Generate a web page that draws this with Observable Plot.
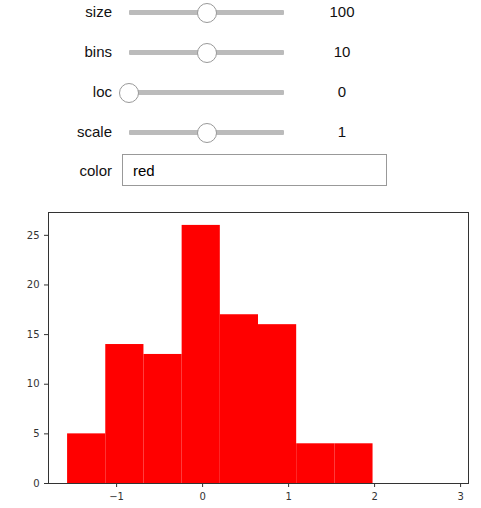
<!DOCTYPE html>
<html>
<head>
<meta charset="utf-8">
<script src="https://cdn.jsdelivr.net/npm/d3@7"></script>
<script src="https://cdn.jsdelivr.net/npm/@observablehq/plot@0.6"></script>
<style>
  body { margin: 0; font-family: "Liberation Sans", Arial, sans-serif; background: #fff; }
  #widgets { position: relative; height: 200px; width: 481px; }
  .lab { position: absolute; width: 112px; text-align: right; font-size: 15px; color: #111; }
  .track { position: absolute; left: 129px; width: 155px; height: 5px; background: #bbb; border-radius: 1px; }
  .knob { position: absolute; width: 18px; height: 18px; border: 1px solid #999; border-radius: 50%; background: #fff; top: -7.5px; }
  .val { position: absolute; left: 312px; width: 60px; text-align: center; font-size: 15px; color: #111; }
  .box { position: absolute; left: 122px; top: 154px; width: 262px; height: 32px; border: 1px solid #999; font-size: 15px; line-height: 32px; padding-left: 10px; box-sizing: border-box; width: 265px; }
  #chart { position: absolute; top: 200px; left: 0; }
</style>
</head>
<body>
<div id="widgets"></div>
<div id="chart"></div>
<script>
const sliders = [
  {name: 'size', value: '100', pos: 0.5},
  {name: 'bins', value: '10', pos: 0.5},
  {name: 'loc', value: '0', pos: 0},
  {name: 'scale', value: '1', pos: 0.5}
]
const colorText = 'red'

// histogram
const binEdges = [-1.57, -1.126, -0.682, -0.238, 0.206, 0.65, 1.094, 1.538, 1.982, 2.426, 2.87]
const counts = [5, 14, 13, 26, 17, 16, 4, 4, 0, 0]

const w = d3.select('#widgets')
sliders.forEach((s, i) => {
  const y = 12 + i * 40
  w.append('div').attr('class', 'lab').style('top', (y - 9) + 'px').text(s.name)
  const t = w.append('div').attr('class', 'track').style('top', (y - 2) + 'px')
  t.append('div').attr('class', 'knob').style('left', (s.pos * 155 - 10) + 'px')
  w.append('div').attr('class', 'val').style('top', (y - 9) + 'px').text(s.value)
})
w.append('div').attr('class', 'lab').style('top', '162px').text('color')
w.append('div').attr('class', 'box').text(colorText)

const bars = counts.map((c, i) => ({x1: binEdges[i], x2: binEdges[i + 1], y: c}))

const chart = Plot.plot({
  width: 481,
  height: 308,
  marginLeft: 48,
  marginRight: 13,
  marginTop: 12,
  marginBottom: 25,
  style: {fontFamily: 'DejaVu Sans', fontSize: '10px', color: '#333'},
  x: {domain: [-1.792, 3.092], ticks: [-1, 0, 1, 2, 3], tickFormat: d => d < 0 ? '\u2212' + Math.abs(d) : d, label: null, tickSize: 4},
  y: {domain: [0, 27.3], ticks: [0, 5, 10, 15, 20, 25], label: null, tickSize: 4},
  marks: [
    Plot.rectY(bars, {x1: 'x1', x2: 'x2', y: 'y', fill: 'red', inset: 0}),
    Plot.frame({stroke: '#333'})
  ]
})
d3.select('#chart').append(() => chart)
</script>
</body>
</html>
